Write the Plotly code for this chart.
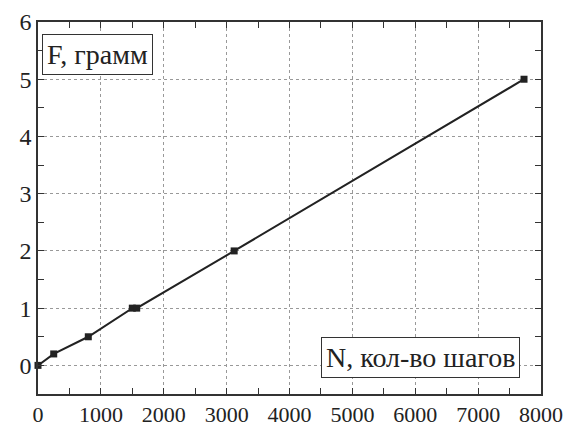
import plotly.graph_objects as go

steps = [0, 250, 800, 1500, 1570, 3120, 7730]
force = [0, 0.2, 0.5, 1.0, 1.0, 2.0, 5.0]
x_ticks = [0, 1000, 2000, 3000, 4000, 5000, 6000, 7000, 8000]
y_ticks = [0, 1, 2, 3, 4, 5, 6]

font = "Liberation Serif, Times New Roman, serif"
fig = go.Figure()
fig.add_trace(go.Scatter(
    x=steps, y=force, mode="lines+markers",
    line=dict(color="#222222", width=2),
    marker=dict(symbol="square", size=7, color="#222222"),
    cliponaxis=False, showlegend=False,
))

axis_common = dict(
    showline=True, linecolor="#333333", linewidth=1.5, mirror="ticks",
    ticks="inside", ticklen=6, tickcolor="#333333", tickwidth=1.2,
    showgrid=True, gridcolor="#999999", griddash="dot", gridwidth=1,
    zeroline=False, automargin=False,
)
fig.update_xaxes(range=[0, 8000], tickvals=x_ticks, ticktext=[str(v) for v in x_ticks],
                 tickfont=dict(family=font, size=22, color="#222222"),
                 minor=dict(ticks="inside", dtick=500, ticklen=6, tickcolor="#333333", showgrid=False),
                 **axis_common)
fig.update_yaxes(range=[-0.5, 6], tickvals=y_ticks, ticktext=[str(v) for v in y_ticks],
                 tickfont=dict(family=font, size=24, color="#222222"),
                 minor=dict(ticks="inside", dtick=0.5, tick0=0, ticklen=6, tickcolor="#333333", showgrid=False),
                 **axis_common)

fig.add_annotation(xref="paper", yref="paper", x=0.008, y=0.968, xanchor="left", yanchor="top",
                   text="F, грамм", showarrow=False, font=dict(family=font, size=28, color="#222222"),
                   bordercolor="#333333", borderwidth=1, borderpad=4, bgcolor="white")
fig.add_annotation(xref="paper", yref="paper", x=0.958, y=0.043, xanchor="right", yanchor="bottom",
                   text="N, кол-во шагов", showarrow=False, font=dict(family=font, size=28, color="#222222"),
                   bordercolor="#333333", borderwidth=1, borderpad=4, bgcolor="white")

fig.update_layout(width=563, height=418, margin=dict(l=30, r=30, t=14, b=32),
                  plot_bgcolor="white", paper_bgcolor="white")
fig.write_html("out.html")
